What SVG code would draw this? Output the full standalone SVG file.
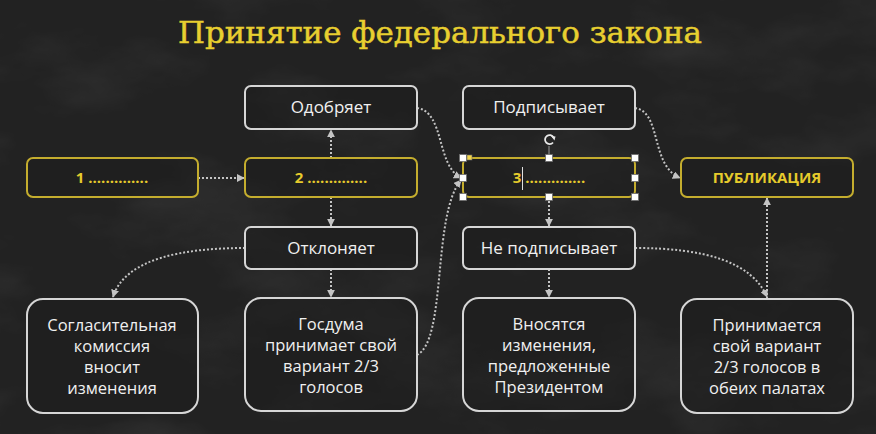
<svg xmlns="http://www.w3.org/2000/svg" width="876" height="434" viewBox="0 0 876 434">
  <defs>
    <filter id="marble" x="0" y="0" width="100%" height="100%">
      <feTurbulence type="fractalNoise" baseFrequency="0.006 0.012" numOctaves="5" seed="7" result="n"/>
      <feColorMatrix in="n" type="matrix" values="0 0 0 0 1  0 0 0 0 1  0 0 0 0 1  -3 0 0 0 1.6" result="veins"/>
      <feComposite in="veins" in2="SourceGraphic" operator="in"/>
    </filter>
    <marker id="arr" viewBox="0 0 10 10" refX="9" refY="5" markerWidth="8" markerHeight="8" markerUnits="userSpaceOnUse" orient="auto">
      <path d="M0,0 L10,5 L0,10 z" fill="#c4c4c4"/>
    </marker>
    <style>
      .bx { fill: #1e1e1e; fill-opacity: 0.55; stroke: #d6d6d6; stroke-width: 2; }
      .yb { fill: #1e1e1e; fill-opacity: 0.55; stroke: #c4ad2e; stroke-width: 2; }
      .t { font-family: "Open Sans", "Noto Sans", "DejaVu Sans", sans-serif; font-size: 17px; fill: #f0f0f0; text-anchor: middle; }
      .m { font-size: 16.5px; }
      .y { font-family: "Open Sans", "Noto Sans", "DejaVu Sans", sans-serif; font-size: 15px; font-weight: bold; fill: #e6cb2c; text-anchor: middle; }
      .c { fill: none; stroke: #c4c4c4; stroke-width: 2; stroke-dasharray: 2 2; }
      .h { fill: #ffffff; stroke: #6a6a6a; stroke-width: 0.8; }
    </style>
  </defs>

  <rect x="0" y="0" width="876" height="434" fill="#222222"/>
  <rect x="0" y="0" width="876" height="434" fill="#222222" filter="url(#marble)" opacity="0.05"/>

  <text x="440" y="43" font-family="'DejaVu Serif', 'Liberation Serif', serif" font-size="30" fill="#e8cf30" stroke="#e8cf30" stroke-width="0.5" text-anchor="middle" textLength="524" lengthAdjust="spacingAndGlyphs">Принятие федерального закона</text>

  <g id="connectors">
    <line class="c" x1="198" y1="178" x2="244" y2="178" marker-end="url(#arr)"/>
    <line class="c" x1="331" y1="158" x2="331" y2="130" marker-end="url(#arr)"/>
    <line class="c" x1="331" y1="197" x2="331" y2="226" marker-end="url(#arr)"/>
    <line class="c" x1="331" y1="269" x2="331" y2="297" marker-end="url(#arr)"/>
    <path class="c" d="M245,248 C185,248 125,258 113,297" marker-end="url(#arr)"/>
    <path class="c" d="M417,108 C445,112 436,165 461,178" marker-end="url(#arr)"/>
    <path class="c" d="M417,355 C447,340 432,215 461,180" marker-end="url(#arr)"/>
    <path class="c" d="M635,108 C662,112 650,165 680,178" marker-end="url(#arr)"/>
    <line class="c" x1="549" y1="197" x2="549" y2="226" marker-end="url(#arr)"/>
    <line class="c" x1="549" y1="269" x2="549" y2="297" marker-end="url(#arr)"/>
    <path class="c" d="M635,248 C705,248 752,262 767,297" marker-end="url(#arr)"/>
    <line class="c" x1="767" y1="299" x2="767" y2="198" marker-end="url(#arr)"/>
  </g>

  <g id="n1">
    <rect class="yb" x="27" y="158" width="171" height="39" rx="6"/>
    <text class="y" x="112" y="183">1 ..............</text>
  </g>
  <g id="n2">
    <rect class="yb" x="245" y="158" width="172" height="39" rx="6"/>
    <text class="y" x="331" y="183">2 ..............</text>
  </g>
  <g id="n-odobryaet">
    <rect class="bx" x="245" y="86" width="172" height="43" rx="6"/>
    <text class="t" x="331" y="113">Одобряет</text>
  </g>
  <g id="n-otklonyaet">
    <rect class="bx" x="245" y="227" width="172" height="42" rx="6"/>
    <text class="t" x="331" y="254">Отклоняет</text>
  </g>
  <g id="n-podpisyvaet">
    <rect class="bx" x="463" y="86" width="172" height="43" rx="6"/>
    <text class="t" x="549" y="113">Подписывает</text>
  </g>
  <g id="n3">
    <rect class="yb" x="463" y="158" width="172" height="39" rx="6"/>
    <text class="y" x="549" y="183">3 ..............</text>
  </g>
  <g id="n-publikaciya">
    <rect class="yb" x="681" y="158" width="172" height="39" rx="6"/>
    <text class="y" x="767" y="183">ПУБЛИКАЦИЯ</text>
  </g>
  <g id="n-ne-podpisyvaet">
    <rect class="bx" x="463" y="227" width="172" height="42" rx="6"/>
    <text class="t" x="549" y="254">Не подписывает</text>
  </g>
  <g id="n-soglasitelnaya">
    <rect class="bx" x="27" y="299" width="171" height="114" rx="16"/>
    <text class="t m" x="112" y="331">Согласительная</text>
    <text class="t m" x="112" y="352">комиссия</text>
    <text class="t m" x="112" y="373">вносит</text>
    <text class="t m" x="112" y="394">изменения</text>
  </g>
  <g id="n-gosduma">
    <rect class="bx" x="245" y="298" width="172" height="113" rx="16"/>
    <text class="t m" x="331" y="330">Госдума</text>
    <text class="t m" x="331" y="351">принимает свой</text>
    <text class="t m" x="331" y="372">вариант 2/3</text>
    <text class="t m" x="331" y="393">голосов</text>
  </g>
  <g id="n-vnosyatsya">
    <rect class="bx" x="463" y="298" width="172" height="113" rx="16"/>
    <text class="t m" x="549" y="330">Вносятся</text>
    <text class="t m" x="549" y="351">изменения,</text>
    <text class="t m" x="549" y="372">предложенные</text>
    <text class="t m" x="549" y="393">Президентом</text>
  </g>
  <g id="n-prinimaetsya">
    <rect class="bx" x="681" y="299" width="172" height="114" rx="16"/>
    <text class="t m" x="767" y="331">Принимается</text>
    <text class="t m" x="767" y="352">свой вариант</text>
    <text class="t m" x="767" y="373">2/3 голосов в</text>
    <text class="t m" x="767" y="394">обеих палатах</text>
  </g>

  <g id="selection">
    <line x1="549" y1="146" x2="549" y2="155" stroke="#9a9a9a" stroke-width="1"/>
    <path d="M553.5,137.5 A4.5,4.5 0 1 0 553,142.5" fill="none" stroke="#e8e8e8" stroke-width="1.8"/>
    <path d="M551,136 L555.5,136.5 L554.5,140.5 z" fill="#e8e8e8"/>
    <line x1="522.5" y1="167" x2="522.5" y2="190" stroke="#e0e0e0" stroke-width="1"/>
    <rect class="h" x="459.5" y="154.5" width="7" height="7"/>
    <rect x="467" y="155" width="5" height="5" fill="#f2d54a" stroke="#6a6a6a" stroke-width="0.6"/>
    <rect class="h" x="545.5" y="154.5" width="7" height="7"/>
    <rect class="h" x="631.5" y="154.5" width="7" height="7"/>
    <rect class="h" x="459.5" y="174.5" width="7" height="7"/>
    <rect class="h" x="631.5" y="174.5" width="7" height="7"/>
    <rect class="h" x="459.5" y="193.5" width="7" height="7"/>
    <rect class="h" x="545.5" y="193.5" width="7" height="7"/>
    <rect class="h" x="631.5" y="193.5" width="7" height="7"/>
  </g>
</svg>
